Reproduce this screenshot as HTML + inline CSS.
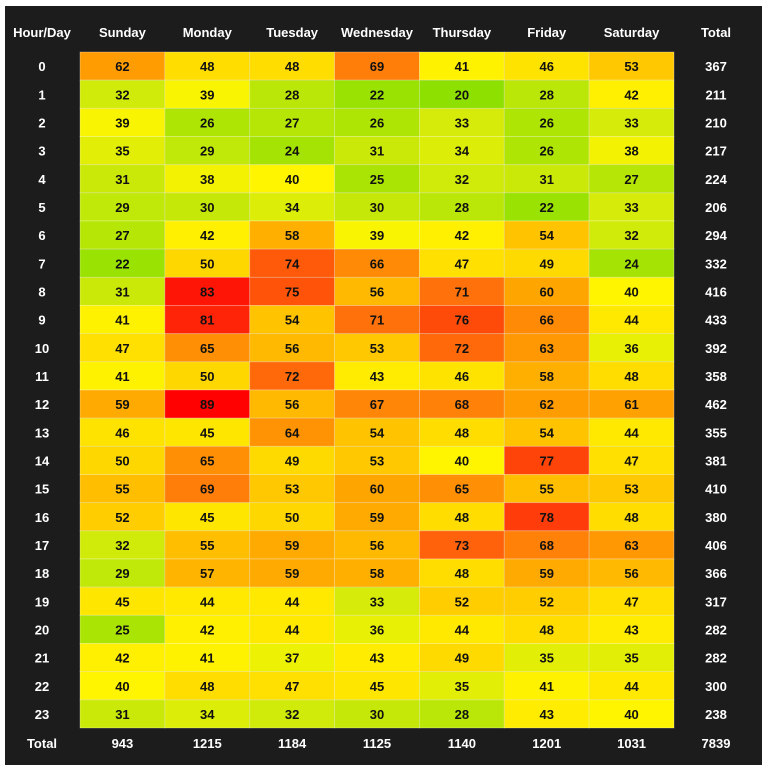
<!DOCTYPE html>
<html><head><meta charset="utf-8"><style>
html,body{margin:0;padding:0;background:#fff;width:768px;height:772px;overflow:hidden}
#panel{position:absolute;left:5px;top:6px;width:757px;height:759px;background:#1c1c1c}
svg{position:absolute;left:0;top:0}
text{font-family:"Liberation Sans",sans-serif;font-weight:bold;font-size:13px}
</style></head><body>
<div id="panel"></div>
<svg id="chart" width="768" height="772"></svg>
<script>
const days=["Sunday","Monday","Tuesday","Wednesday","Thursday","Friday","Saturday"];
const hours=["0","1","2","3","4","5","6","7","8","9","10","11","12","13","14","15","16","17","18","19","20","21","22","23"];
const values=[
[62,48,48,69,41,46,53],
[32,39,28,22,20,28,42],
[39,26,27,26,33,26,33],
[35,29,24,31,34,26,38],
[31,38,40,25,32,31,27],
[29,30,34,30,28,22,33],
[27,42,58,39,42,54,32],
[22,50,74,66,47,49,24],
[31,83,75,56,71,60,40],
[41,81,54,71,76,66,44],
[47,65,56,53,72,63,36],
[41,50,72,43,46,58,48],
[59,89,56,67,68,62,61],
[46,45,64,54,48,54,44],
[50,65,49,53,40,77,47],
[55,69,53,60,65,55,53],
[52,45,50,59,48,78,48],
[32,55,59,56,73,68,63],
[29,57,59,58,48,59,56],
[45,44,44,33,52,52,47],
[25,42,44,36,44,48,43],
[42,41,37,43,49,35,35],
[40,48,47,45,35,41,44],
[31,34,32,30,28,43,40]];
const NS="http://www.w3.org/2000/svg";
const svg=document.getElementById('chart');
const gx0=80,gx1=674,gy0=52,gy1=728;
const cw=(gx1-gx0)/days.length,ch=(gy1-gy0)/hours.length;
const xPos=i=>gx0+i*cw, yPos=j=>gy0+j*ch;
const stops=[[20,[142,224,0]],[32,[208,234,10]],[40,[255,245,0]],[50,[255,215,0]],[60,[255,165,0]],[70,[255,120,10]],[78,[255,60,10]],[85,[255,5,5]],[90,[255,0,0]]];
function color(v){for(let k=0;k<stops.length-1;k++){const [a,ca]=stops[k],[b,cb]=stops[k+1];if(v<=b){const t=Math.max(0,(v-a)/(b-a));return 'rgb('+ca.map((c,i)=>Math.round(c+(cb[i]-c)*t)).join(',')+')';}}return 'rgb(255,0,0)';}
function T(x,y,s,fill,name){const t=document.createElementNS(NS,'text');t.setAttribute('x',x);t.setAttribute('y',y);t.setAttribute('text-anchor','middle');t.setAttribute('fill',fill);t.textContent=s;


svg.appendChild(t);}
T(42,37,"Hour/Day","#fff","header-hour-day");
T(716,37,"Total","#fff","header-total");
days.forEach((d,i)=>T(xPos(i)+cw/2,37,d,"#fff","header-"+d.toLowerCase()));
const colTot=days.map(()=>0);let grand=0;
values.forEach((row,j)=>{
 T(42,yPos(j)+ch/2+5,hours[j],"#fff","hour-label");
 let rt=0;
 row.forEach((v,i)=>{
  rt+=v;colTot[i]+=v;
  const r=document.createElementNS(NS,'rect');
  r.setAttribute('x',xPos(i));r.setAttribute('y',yPos(j));r.setAttribute('width',cw);r.setAttribute('height',ch);
  r.setAttribute('fill',color(v));r.setAttribute('stroke','rgba(255,255,255,0.35)');r.setAttribute('stroke-width','0.8');
  
  
  svg.appendChild(r);
  T(xPos(i)+cw/2,yPos(j)+ch/2+5,v,"#111","cell-value");
 });
 grand+=rt;
 T(716,yPos(j)+ch/2+5,rt,"#fff","row-total");
});
T(42,748,"Total","#fff","footer-total-label");
colTot.forEach((c,i)=>T(xPos(i)+cw/2,748,c,"#fff","column-total"));
T(716,748,grand,"#fff","grand-total");
</script>
</body></html>
